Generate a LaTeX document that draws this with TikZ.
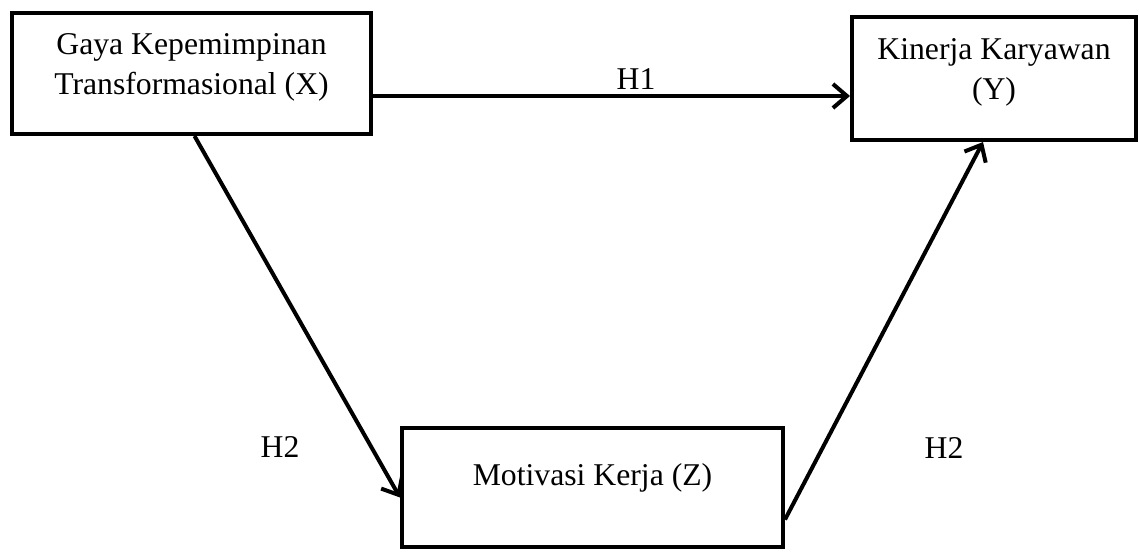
\documentclass[tikz,border=0pt]{standalone}
\usepackage{fontspec}
\setmainfont{Liberation Serif}
\usepackage{tikz}
\usetikzlibrary{arrows.meta}
\usetikzlibrary{positioning}

\begin{document}
\begin{tikzpicture}[
 x=1pt, y=-1pt,
 font=\fontsize{31.7}{40}\selectfont,
 block/.style = {draw, rectangle, line width=4pt, inner sep=0pt},
 txt/.style = {inner sep=0pt, align=center},
 arr/.style = {line width=4pt, -{Straight Barb[length=14pt,width=24pt,line width=4pt]}},
                        ]
    \useasboundingbox (0,0) rectangle (1139,551);

    \node [block, minimum width=359pt, minimum height=121pt] (x) at (191.5,73.5) {};
    \node [txt] (xtext) at ([yshift=6pt]x.center) {Gaya Kepemimpinan\\Transformasional (X)};

    \node [block, minimum width=284pt, minimum height=123pt] (y) at (994,78.5) {};
    \node [txt] (ytext) at ([yshift=6.5pt]y.center) {Kinerja Karyawan\\(Y)};

    \node [block, minimum width=381pt, minimum height=119pt] (z) at (592.5,487.5) {};
    \node [txt, anchor=base] (ztext) at (592.5,485) {Motivasi Kerja (Z)};

    % hipotesis
    \draw [arr] ([yshift=-22.5pt]x.east) -- ([yshift=-22.5pt]x.east -| y.west);
    \draw [arr] ([xshift=3pt]x.south) -- ([yshift=-10pt]z.west);
    \draw [arr] ([yshift=-32pt]z.east) -- ([xshift=-11pt]y.south);

    \node [txt, anchor=base] (hone) at (636,89) {H1};
    \node [txt, anchor=base] (htwoa) at (280,457) {H2};
    \node [txt, anchor=base] (htwob) at (944,458) {H2};

\end{tikzpicture}
\end{document}
